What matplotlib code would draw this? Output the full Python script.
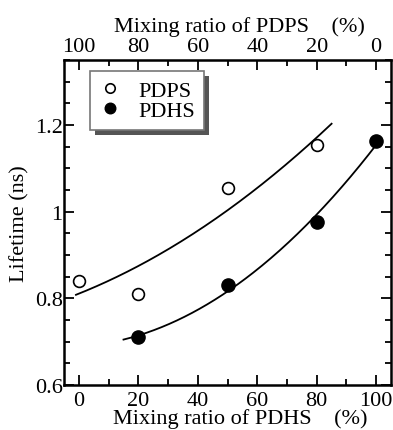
import numpy as np
from matplotlib import pyplot as plt
from matplotlib.ticker import MultipleLocator
from matplotlib.patches import Rectangle

# values
pdps_x = [0, 20, 50, 80]
pdps_y = [0.84, 0.81, 1.055, 1.155]
pdhs_x = [20, 50, 80, 100]
pdhs_y = [0.71, 0.83, 0.976, 1.162]

# ranges of the fitted (quadratic) curves
pdps_fit_range = [-1, 85]
pdhs_fit_range = [15, 100]

plt.rcParams['font.family'] = 'serif'
plt.rcParams['font.serif'] = ['Liberation Serif']
plt.rcParams['font.size'] = 16

fig = plt.figure(figsize=(3.93, 4.31), dpi=100)
ax = fig.add_axes([0.163, 0.1044, 0.832, 0.754])

# quadratic fits through the points
for xs, ys, rng in [(pdps_x, pdps_y, pdps_fit_range), (pdhs_x, pdhs_y, pdhs_fit_range)]:
    coef = np.polyfit(xs, ys, 2)
    xf = np.linspace(rng[0], rng[1], 200)
    ax.plot(xf, np.polyval(coef, xf), color='black', lw=1.3)

ax.plot(pdps_x, pdps_y, 'o', mfc='white', mec='black', mew=1.2, ms=8.5, label='PDPS')
ax.plot(pdhs_x, pdhs_y, 'o', mfc='black', mec='black', ms=9.5, label='PDHS')

ax.set_xlim(-5, 105)
ax.set_ylim(0.6, 1.35)
ax.set_xticks(np.arange(0, 101, 20))
ax.set_yticks([0.6, 0.8, 1.0, 1.2])
ax.set_yticklabels(['0.6', '0.8', '1', '1.2'])
ax.xaxis.set_minor_locator(MultipleLocator(10))
ax.yaxis.set_minor_locator(MultipleLocator(0.05))
ax.tick_params(which='both', direction='in', top=False, right=True, width=1.3)
ax.tick_params(which='major', length=7)
ax.tick_params(which='minor', length=4)
ax.tick_params(axis='x', pad=4)
ax.tick_params(axis='y', pad=1)
for s in ax.spines.values():
    s.set_linewidth(1.8)

ax.set_xlabel('Mixing ratio of PDHS    (%)', labelpad=0)
ax.xaxis.set_label_coords(0.54, -0.072, transform=ax.transAxes)
ax.xaxis.label.set_va('top')
ax.set_ylabel('Lifetime (ns)', labelpad=4)

# top axis: complementary ratio
top = ax.secondary_xaxis('top', functions=(lambda x: 100 - x, lambda x: 100 - x))
top.set_xticks(np.arange(0, 101, 20))
top.xaxis.set_minor_locator(MultipleLocator(10))
top.tick_params(which='both', direction='in', width=1.3)
top.tick_params(which='major', length=7, pad=3)
top.tick_params(which='minor', length=4)
top.set_xlabel('Mixing ratio of PDPS    (%)', labelpad=4)
top.xaxis.label.set_x(0.535)

leg = ax.legend(loc='upper left', bbox_to_anchor=(0.08, 0.966), borderaxespad=0,
                fancybox=False, shadow=False, edgecolor='#777777', framealpha=1,
                handlelength=1.0, handletextpad=0.75, markerscale=0.8,
                borderpad=0.4, labelspacing=0.0)
leg.get_frame().set_linewidth(1.2)

# hard drop shadow behind the legend box
fig.canvas.draw()
bb = leg.get_window_extent().transformed(ax.transAxes.inverted())
dx, dy = 5 / ax.bbox.width, 5 / ax.bbox.height
ax.add_patch(Rectangle((bb.x0 + dx, bb.y0 - dy), bb.width, bb.height,
                       transform=ax.transAxes, facecolor='#555555',
                       edgecolor='none', zorder=4.9, clip_on=False))

plt.savefig('out.png', dpi=100)
